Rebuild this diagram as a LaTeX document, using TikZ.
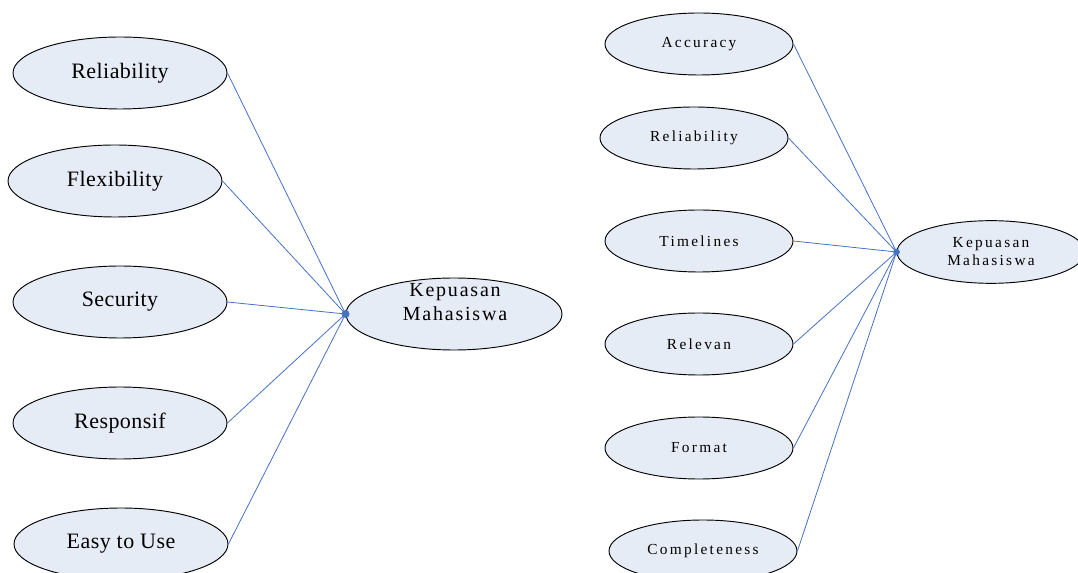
\documentclass[tikz,border=0pt]{standalone}
\usepackage{fontspec}
\setmainfont{Liberation Serif}
\newfontfamily\midfont[LetterSpace=9]{Liberation Serif}
\newfontfamily\widefont[LetterSpace=15]{Liberation Serif}
\usepackage{tikz}
\usetikzlibrary{
    shapes.geometric,
    positioning
}
\definecolor{linkblue}{RGB}{68,114,196}
\definecolor{ovalfill}{RGB}{230,236,246}
\tikzset{
    bigoval/.style={ellipse, draw=black, line width=0.7pt, fill=ovalfill, inner sep=0pt,
        minimum width=160.5pt, minimum height=54pt, font=\fontsize{16.5}{19}\selectfont\addfontfeature{LetterSpace=2}},
    smalloval/.style={ellipse, draw=black, line width=0.7pt, fill=ovalfill, inner sep=0pt,
        minimum width=141pt, minimum height=46.5pt, font=\widefont\fontsize{11.5}{13.5}\selectfont},
    link/.style={draw=linkblue, line width=0.6pt}
}

\begin{document}
\begin{tikzpicture}[x=0.75pt, y=-0.75pt]
                        \useasboundingbox (0, 0) rectangle (1078, 573);
                        \node[bigoval] (relA) at (120, 73) {Reliability};
                        \node[bigoval] (flex) at (115, 181) {Flexibility};
                        \node[bigoval] (secu) at (120, 302) {Security};
                        \node[bigoval] (resp) at (120, 423) {Responsif};
                        \node[bigoval] (easy) at (121, 544) {Easy to Use};
                        \node[bigoval, minimum width=162pt] (kpA) at (454, 314) {};
                        \node[font=\midfont\fontsize{15}{18}\selectfont, align=center, inner sep=0pt] (kpAtxt) at (455, 302) {Kepuasan\\Mahasiswa};
                        \node[smalloval] (accu) at (699, 44) {Accuracy};
                        \node[smalloval] (relB) at (694, 138) {Reliability};
                        \node[smalloval] (time) at (699, 241) {Timelines};
                        \node[smalloval] (rele) at (699, 344) {Relevan};
                        \node[smalloval] (form) at (699, 448) {Format};
                        \node[smalloval] (comp) at (703, 551) {Completeness};
                        \node[smalloval, minimum height=47pt, align=center] (kpB) at (991, 252) {Kepuasan\\Mahasiswa};
                        \draw[link] (relA.east) -- (kpA.west);
                        \draw[link] (flex.east) -- (kpA.west);
                        \draw[link] (secu.east) -- (kpA.west);
                        \draw[link] (resp.east) -- (kpA.west);
                        \draw[link] (easy.east) -- (kpA.west);
                        \draw[link] (accu.east) -- (kpB.west);
                        \draw[link] (relB.east) -- (kpB.west);
                        \draw[link] (time.east) -- (kpB.west);
                        \draw[link] (rele.east) -- (kpB.west);
                        \draw[link] (form.east) -- (kpB.west);
                        \draw[link] (comp.east) -- (kpB.west);
                        \fill[linkblue] (kpA.west) circle (3pt);
                        \fill[linkblue] (kpB.west) circle (2.5pt);
                    \end{tikzpicture}
\end{document}
